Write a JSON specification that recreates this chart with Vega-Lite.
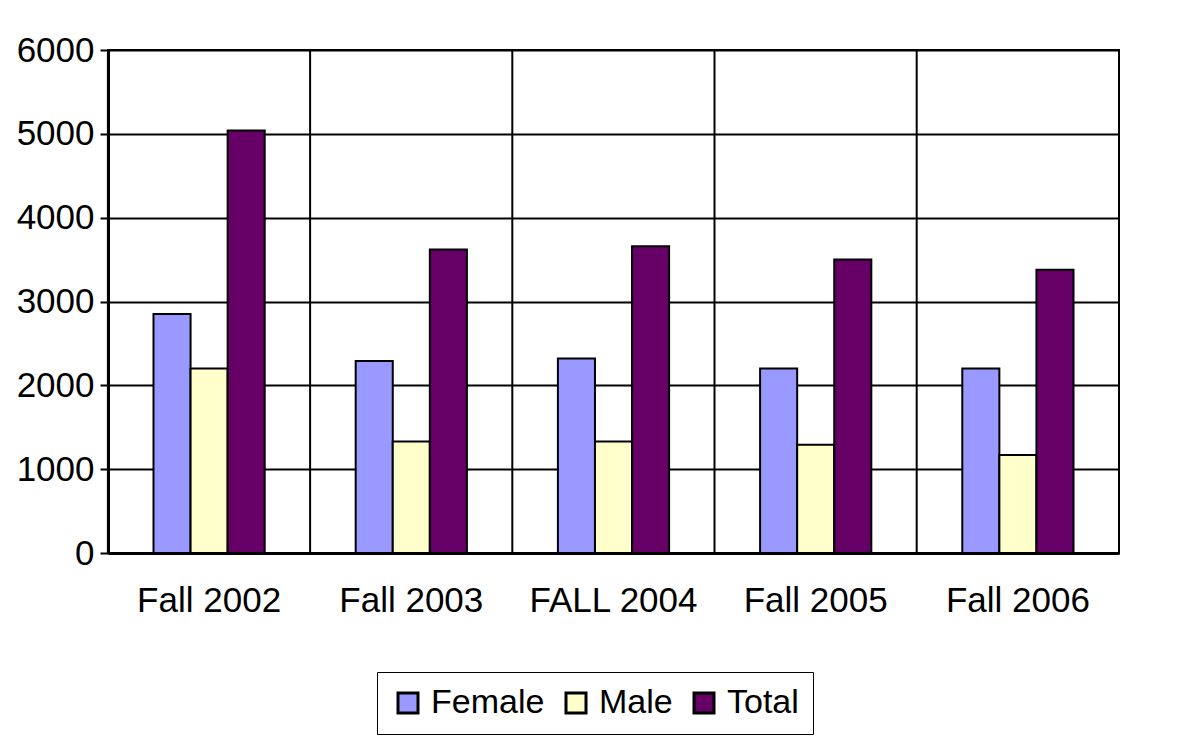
{
  "$schema": "https://vega.github.io/schema/vega-lite/v6.json",
  "width": 1011,
  "height": 503,
  "autosize": {"type": "none"},
  "padding": {"left": 108, "top": 50, "right": 66, "bottom": 190},
  "background": "white",
  "config": {"font": "Liberation Sans", "view": {"stroke": "black", "strokeWidth": 2}},
  "datasets": {
    "enroll": [
      {"period": "Fall 2002", "group": "Female", "count": 2850},
      {"period": "Fall 2002", "group": "Male", "count": 2200},
      {"period": "Fall 2002", "group": "Total", "count": 5040},
      {"period": "Fall 2003", "group": "Female", "count": 2290},
      {"period": "Fall 2003", "group": "Male", "count": 1330},
      {"period": "Fall 2003", "group": "Total", "count": 3620},
      {"period": "FALL 2004", "group": "Female", "count": 2320},
      {"period": "FALL 2004", "group": "Male", "count": 1330},
      {"period": "FALL 2004", "group": "Total", "count": 3660},
      {"period": "Fall 2005", "group": "Female", "count": 2200},
      {"period": "Fall 2005", "group": "Male", "count": 1290},
      {"period": "Fall 2005", "group": "Total", "count": 3500},
      {"period": "Fall 2006", "group": "Female", "count": 2200},
      {"period": "Fall 2006", "group": "Male", "count": 1170},
      {"period": "Fall 2006", "group": "Total", "count": 3380}
    ],
    "periods": [
      {"period": "Fall 2002"},
      {"period": "Fall 2003"},
      {"period": "FALL 2004"},
      {"period": "Fall 2005"},
      {"period": "Fall 2006"}
    ]
  },
  "layer": [
    {
      "data": {"name": "periods"},
      "mark": {"type": "rule", "color": "black", "strokeWidth": 2},
      "encoding": {
        "x": {
          "field": "period", "type": "nominal", "sort": null, "bandPosition": -0.41,
          "axis": {
            "title": null, "labelAngle": 0, "labelFontSize": 35, "labelColor": "black",
            "labelAlign": "center", "labelBaseline": "top", "bandPosition": 0.5,
            "labelPadding": 30, "ticks": false, "domainColor": "black", "domainWidth": 3, "grid": false
          }
        }
      }
    },
    {
      "data": {"name": "enroll"},
      "mark": {"type": "bar", "stroke": "black", "strokeWidth": 2},
      "encoding": {
        "x": {
          "field": "period", "type": "nominal", "sort": null,
          "scale": {"paddingInner": 0.45, "paddingOuter": 0.225},
          "axis": {
            "title": null, "labelAngle": 0, "labelFontSize": 35, "labelColor": "black",
            "labelAlign": "center", "labelBaseline": "top", "bandPosition": 0.5,
            "labelPadding": 30, "ticks": false, "domainColor": "black", "domainWidth": 3, "grid": false
          }
        },
        "xOffset": {"field": "group", "type": "nominal", "sort": ["Female", "Male", "Total"]},
        "y": {
          "field": "count", "type": "quantitative",
          "scale": {"domain": [0, 6000]},
          "axis": {
            "title": null, "values": [0, 1000, 2000, 3000, 4000, 5000, 6000], "format": "d",
            "labelFontSize": 35, "labelColor": "black", "labelPadding": 6,
            "tickColor": "black", "tickSize": 8, "tickWidth": 2,
            "domainColor": "black", "domainWidth": 3,
            "grid": true, "gridColor": "black", "gridWidth": 2
          }
        },
        "color": {
          "field": "group", "type": "nominal",
          "scale": {"domain": ["Female", "Male", "Total"], "range": ["#9999FF", "#FFFFCC", "#660066"]},
          "legend": {
            "orient": "none", "legendX": 269, "legendY": 622, "direction": "horizontal",
            "title": null, "labelFontSize": 34, "labelColor": "black",
            "symbolType": "square", "symbolSize": 400, "symbolStrokeColor": "black", "symbolStrokeWidth": 3,
            "strokeColor": "black", "fillColor": "white", "padding": 14, "columnPadding": 14, "labelOffset": 6
          }
        }
      }
    }
  ]
}
